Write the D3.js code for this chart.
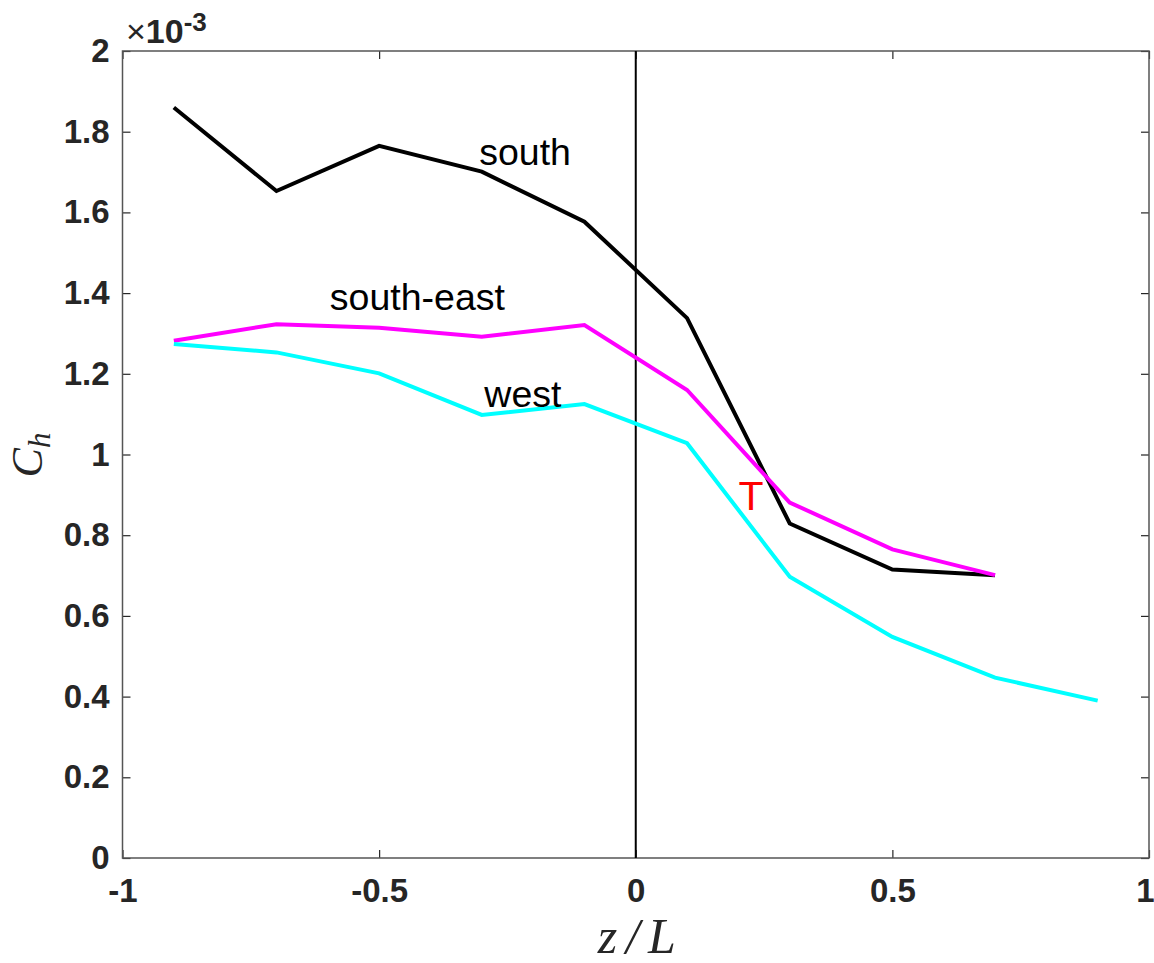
<!DOCTYPE html>
<html>
<head>
<meta charset="utf-8">
<script src="https://cdn.jsdelivr.net/npm/d3@7"></script>
<style>
  html, body { margin: 0; padding: 0; background: #fff; }
  svg { display: block; }
</style>
</head>
<body>
<svg id="chart" width="1154" height="963"></svg>
<script>
// ---- data (C_h in units of 1e-3) ----
const zL = [-0.9, -0.7, -0.5, -0.3, -0.1, 0.1, 0.3, 0.5, 0.7, 0.9];
const south     = [1.860, 1.653, 1.765, 1.701, 1.577, 1.338, 0.829, 0.715, 0.701];
const southEast = [1.282, 1.323, 1.314, 1.292, 1.321, 1.160, 0.881, 0.765, 0.701];
const west      = [1.274, 1.253, 1.201, 1.098, 1.125, 1.028, 0.697, 0.548, 0.447, 0.390];
const xTicks = [-1, -0.5, 0, 0.5, 1];
const xTickLabels = ["-1", "-0.5", "0", "0.5", "1"];
const yTicks = [0, 0.2, 0.4, 0.6, 0.8, 1, 1.2, 1.4, 1.6, 1.8, 2];
const yTickLabels = ["0", "0.2", "0.4", "0.6", "0.8", "1", "1.2", "1.4", "1.6", "1.8", "2"];
const seriesNames = ["south", "south-east", "west"];
const seriesColors = ["#000000", "#ff00ff", "#00ffff"];

const svg = d3.select("#chart");
const L = 122.5, R = 1149, T = 51, B = 858;
const x = d3.scaleLinear().domain([-1, 1]).range([L, R]);
const y = d3.scaleLinear().domain([0, 2]).range([B, T]);

const fontTick = "'Liberation Sans', Arial, Helvetica, sans-serif";

// axes
const gL = svg.append("g").attr("transform", `translate(${L},0)`)
  .call(d3.axisLeft(y).tickValues(yTicks).tickSize(-8).tickPadding(13)
        .tickFormat((d, i) => yTickLabels[i]));
const gB = svg.append("g").attr("transform", `translate(0,${B})`)
  .call(d3.axisBottom(x).tickValues(xTicks).tickSize(-8).tickPadding(21)
        .tickFormat((d, i) => xTickLabels[i]));
const gR = svg.append("g").attr("transform", `translate(${R},0)`)
  .call(d3.axisRight(y).tickValues(yTicks).tickSize(-8).tickFormat(""));
const gT = svg.append("g").attr("transform", `translate(0,${T})`)
  .call(d3.axisTop(x).tickValues(xTicks).tickSize(-8).tickFormat(""));

[gL, gB, gR, gT].forEach(g => {
  g.select(".domain").remove();
  g.attr("font-size", null).attr("font-family", null);
  g.selectAll(".tick line").attr("stroke", "#262626").attr("stroke-width", 1.2);
  g.selectAll(".tick text")
    .attr("fill", "#262626")
    .attr("font-family", fontTick)
    .attr("font-weight", "bold")
    .attr("font-size", 33);
});
// keep the last x label inside the picture like the reference
gB.selectAll(".tick text").filter((d) => d === 1).attr("dx", -4);

// frame
svg.append("rect")
  .attr("x", L).attr("y", T).attr("width", R - L).attr("height", B - T)
  .attr("fill", "none").attr("stroke", "#555").attr("stroke-width", 1.5);

// vertical zero line
svg.append("line")
  .attr("x1", x(0)).attr("x2", x(0)).attr("y1", y(2)).attr("y2", y(0))
  .attr("stroke", "#000").attr("stroke-width", 2);

// series
const line = d3.line().x(d => x(d[0])).y(d => y(d[1]));
const seriesData = [south, southEast, west];
seriesData.forEach((vals, i) => {
  const pts = vals.map((v, j) => [zL[j], v]);
  svg.append("path")
    .datum(pts)
    .attr("d", line)
    .attr("fill", "none")
    .attr("stroke", seriesColors[i])
    .attr("stroke-width", 4)
    .attr("stroke-linejoin", "miter");
});

// in-plot labels
const labelFont = "'Liberation Sans', Arial, Helvetica, sans-serif";
const labels = [
  {t: seriesNames[0], xv: -0.305, yv: (858 - 165) / 403.5},
  {t: seriesNames[1], xv: -0.596, yv: (858 - 310) / 403.5},
  {t: seriesNames[2], xv: -0.295, yv: (858 - 406.5) / 403.5}
];
labels.forEach(l => {
  svg.append("text")
    .attr("x", x(l.xv)).attr("y", y(l.yv))
    .attr("font-family", labelFont).attr("font-size", 37.5)
    .attr("fill", "#000")
    .text(l.t);
});
svg.append("text")
  .attr("x", x(0.2)).attr("y", y((858 - 510) / 403.5))
  .attr("font-family", labelFont).attr("font-size", 41)
  .attr("fill", "#ff0000")
  .text("T");

// exponent label
const ex = svg.append("text").attr("x", 126).attr("y", 43)
  .attr("font-family", fontTick).attr("font-size", 34).attr("fill", "#262626");
ex.append("tspan").attr("font-size", 34).attr("font-weight", "normal").text("×");
ex.append("tspan").attr("font-size", 34).attr("font-weight", "bold").text("10");
ex.append("tspan").attr("dy", -12).attr("font-size", 26).attr("font-weight", "bold").text("-3");

// x label: z/L
svg.append("text")
  .attr("x", x(0) + 1).attr("y", 953)
  .attr("text-anchor", "middle")
  .attr("font-family", "'Liberation Serif', 'DejaVu Serif', serif")
  .attr("font-style", "italic")
  .attr("font-size", 50)
  .attr("fill", "#262626")
  .attr("textLength", 78).attr("lengthAdjust", "spacing")
  .text("z/L");

// y label: C_h
const yl = svg.append("g").attr("transform", `translate(42,455) rotate(-90)`);
const ylt = yl.append("text")
  .attr("text-anchor", "middle")
  .attr("font-family", "'Liberation Serif', 'DejaVu Serif', serif")
  .attr("font-style", "italic")
  .attr("fill", "#262626");
ylt.append("tspan").attr("font-size", 44).text("C");
ylt.append("tspan").attr("dy", 8).attr("font-size", 31).text("h");
</script>
</body>
</html>
